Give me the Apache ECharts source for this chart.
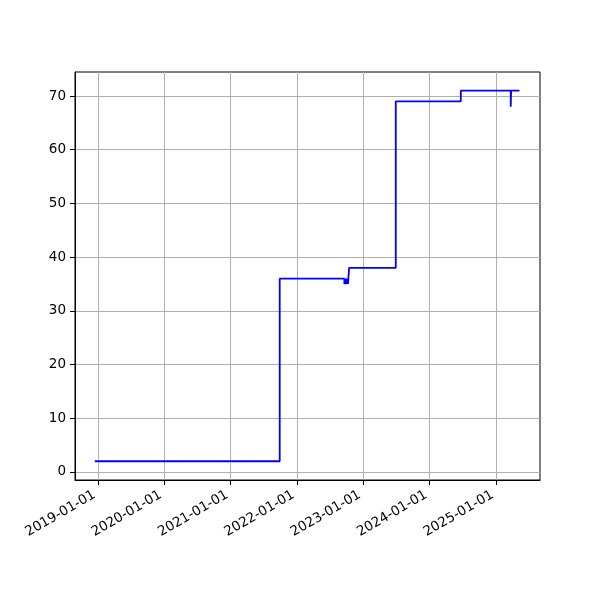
<!DOCTYPE html>
<html>
<head>
<meta charset="utf-8">
<script src="https://cdn.jsdelivr.net/npm/echarts@6/dist/echarts.min.js"></script>
<style>html,body{margin:0;padding:0;background:#fff}#c{width:600px;height:600px}</style>
</head>
<body>
<div id="c"></div>
<script>
var dates = ['2018-12-15','2021-09-28','2022-09-19','2022-09-25','2022-09-29','2022-10-05','2022-10-09','2022-10-15','2023-06-29','2024-06-21','2025-03-23','2025-03-25','2025-05-10'];
var values = [2,36,35,36,35,36,35,38,69,71,68,71,71];
var xTickLabels = ['2019-01-01','2020-01-01','2021-01-01','2022-01-01','2023-01-01','2024-01-01','2025-01-01'];
var yTicks = [0,10,20,30,40,50,60,70];

var ts = function(s){ var p = s.split('-'); return Date.UTC(+p[0], +p[1]-1, +p[2]); };
var xTickVals = xTickLabels.map(ts);
var seriesData = dates.map(function(d,i){ return [ts(d), values[i]]; });

var chart = echarts.init(document.getElementById('c'), null, {renderer:'canvas'});
var font = 'DejaVu Sans';
chart.setOption({
  animation: false,
  grid: {left:75, top:72, width:465, height:408, show:true, borderColor:'#000', borderWidth:1, containLabel:false},
  xAxis: {
    type:'value',
    min: ts('2018-08-28'),
    max: ts('2025-08-31'),
    axisLine: {show:true, onZero:false, lineStyle:{color:'#000', width:1}},
    axisTick: {show:true, length:5, inside:false, lineStyle:{color:'#000'}, customValues: xTickVals},
    axisLabel: {show:true, rotate:30, margin:12, padding:[0,4,0,0], color:'#000', fontFamily:font, fontSize:13.5,
      customValues: xTickVals,
      formatter: function(v){ var i = xTickVals.indexOf(v); if (i >= 0) return xTickLabels[i]; var d=new Date(v); return d.getUTCFullYear()+'-01-01'; }},
    splitLine: {show:true, lineStyle:{color:'#b0b0b0', width:1}}
  },
  yAxis: {
    type:'value',
    min: -1.49,
    max: 74.47,
    axisLine: {show:true, onZero:false, lineStyle:{color:'#000', width:1}},
    axisTick: {show:true, length:5, inside:false, lineStyle:{color:'#000'}, customValues: yTicks},
    axisLabel: {show:true, margin:9, color:'#000', fontFamily:font, fontSize:13.5, customValues: yTicks},
    splitLine: {show:true, lineStyle:{color:'#b0b0b0', width:1}}
  },
  series: [{
    type:'line',
    step:'end',
    data: seriesData,
    showSymbol:false,
    symbol:'none',
    lineStyle:{color:'#0000ff', width:1.8},
    itemStyle:{color:'#0000ff'}
  }]
});
</script>
</body>
</html>
